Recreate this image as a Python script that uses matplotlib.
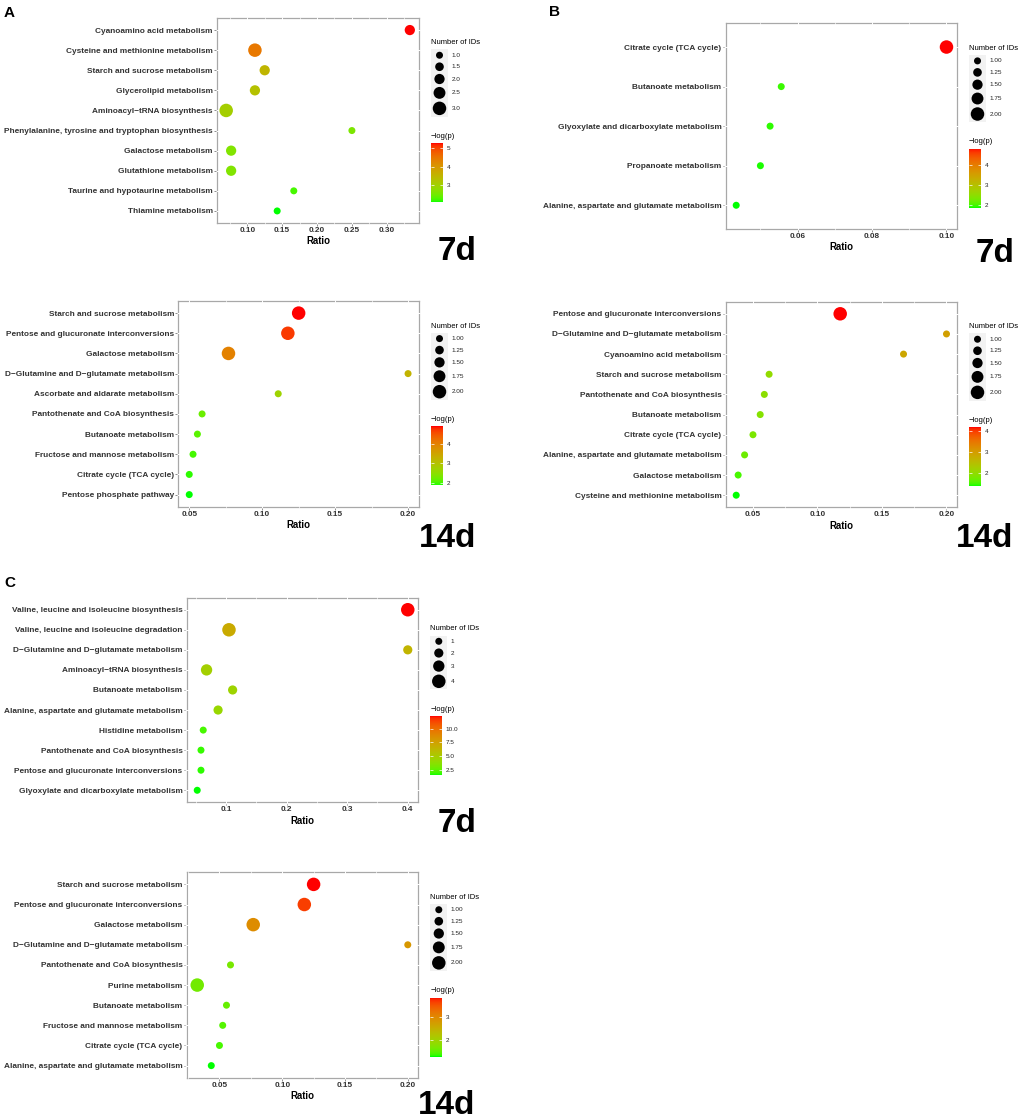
import numpy as np
import matplotlib
matplotlib.use("Agg")
import matplotlib.pyplot as plt
from matplotlib.colors import ListedColormap, Normalize
from matplotlib.cm import ScalarMappable
from matplotlib.ticker import FormatStrFormatter
from matplotlib.transforms import blended_transform_factory

plt.rcParams['font.family'] = ['Liberation Sans', 'DejaVu Sans']

# ---------------- DATA ----------------
# Panel A, 7d
A7_PATH = ["Cyanoamino acid metabolism", "Cysteine and methionine metabolism",
           "Starch and sucrose metabolism", "Glycerolipid metabolism",
           "Aminoacyl\u2212tRNA biosynthesis",
           "Phenylalanine, tyrosine and tryptophan biosynthesis",
           "Galactose metabolism", "Glutathione metabolism",
           "Taurine and hypotaurine metabolism", "Thiamine metabolism"]
A7_RATIO = [0.333, 0.111, 0.125, 0.111, 0.0698, 0.25, 0.0769, 0.0769, 0.1667, 0.1429]
A7_IDS = [2, 3, 2, 2, 3, 1, 2, 2, 1, 1]
A7_LOGP = [5.25, 4.45, 3.5, 3.3, 3.05, 2.6, 2.65, 2.65, 2.25, 2.1]
A7_XTICKS = [0.10, 0.15, 0.20, 0.25, 0.30]
A7_SIZE_BREAKS = [1.0, 1.5, 2.0, 2.5, 3.0]
A7_CBAR_TICKS = [3, 4, 5]

# Panel B, 7d
B7_PATH = ["Citrate cycle (TCA cycle)", "Butanoate metabolism",
           "Glyoxylate and dicarboxylate metabolism", "Propanoate metabolism",
           "Alanine, aspartate and glutamate metabolism"]
B7_RATIO = [0.100, 0.0556, 0.0526, 0.050, 0.0435]
B7_IDS = [2, 1, 1, 1, 1]
B7_LOGP = [4.83, 1.97, 1.93, 1.9, 1.87]
B7_XTICKS = [0.06, 0.08, 0.10]
B7_SIZE_BREAKS = [1.00, 1.25, 1.50, 1.75, 2.00]
B7_CBAR_TICKS = [2, 3, 4]

# Panel A, 14d
A14_PATH = ["Starch and sucrose metabolism", "Pentose and glucuronate interconversions",
            "Galactose metabolism", "D\u2212Glutamine and D\u2212glutamate metabolism",
            "Ascorbate and aldarate metabolism", "Pantothenate and CoA biosynthesis",
            "Butanoate metabolism", "Fructose and mannose metabolism",
            "Citrate cycle (TCA cycle)", "Pentose phosphate pathway"]
A14_RATIO = [0.125, 0.1176, 0.0769, 0.200, 0.111, 0.0588, 0.0556, 0.0526, 0.050, 0.050]
A14_IDS = [2, 2, 2, 1, 1, 1, 1, 1, 1, 1]
A14_LOGP = [4.9, 4.7, 4.0, 3.25, 2.7, 2.2, 2.1, 2.0, 1.92, 1.86]
A14_XTICKS = [0.05, 0.10, 0.15, 0.20]
A14_SIZE_BREAKS = [1.00, 1.25, 1.50, 1.75, 2.00]
A14_CBAR_TICKS = [2, 3, 4]

# Panel B, 14d
B14_PATH = ["Pentose and glucuronate interconversions",
            "D\u2212Glutamine and D\u2212glutamate metabolism",
            "Cyanoamino acid metabolism", "Starch and sucrose metabolism",
            "Pantothenate and CoA biosynthesis", "Butanoate metabolism",
            "Citrate cycle (TCA cycle)", "Alanine, aspartate and glutamate metabolism",
            "Galactose metabolism", "Cysteine and methionine metabolism"]
B14_RATIO = [0.1176, 0.200, 0.1667, 0.0625, 0.0588, 0.0556, 0.050, 0.0435, 0.0385, 0.037]
B14_IDS = [2, 1, 1, 1, 1, 1, 1, 1, 1, 1]
B14_LOGP = [4.21, 2.95, 2.85, 2.0, 1.93, 1.87, 1.78, 1.68, 1.48, 1.34]
B14_XTICKS = [0.05, 0.10, 0.15, 0.20]
B14_SIZE_BREAKS = [1.00, 1.25, 1.50, 1.75, 2.00]
B14_CBAR_TICKS = [2, 3, 4]

# Panel C, 7d
C7_PATH = ["Valine, leucine and isoleucine biosynthesis",
           "Valine, leucine and isoleucine degradation",
           "D\u2212Glutamine and D\u2212glutamate metabolism",
           "Aminoacyl\u2212tRNA biosynthesis", "Butanoate metabolism",
           "Alanine, aspartate and glutamate metabolism", "Histidine metabolism",
           "Pantothenate and CoA biosynthesis",
           "Pentose and glucuronate interconversions",
           "Glyoxylate and dicarboxylate metabolism"]
C7_RATIO = [0.400, 0.105, 0.400, 0.068, 0.111, 0.087, 0.0625, 0.0588, 0.0588, 0.0526]
C7_IDS = [4, 4, 2, 3, 2, 2, 1, 1, 1, 1]
C7_LOGP = [12.3, 7.0, 6.4, 4.8, 4.5, 4.3, 2.1, 1.9, 1.8, 1.58]
C7_XTICKS = [0.1, 0.2, 0.3, 0.4]
C7_SIZE_BREAKS = [1, 2, 3, 4]
C7_CBAR_TICKS = [2.5, 5.0, 7.5, 10.0]

# Panel C, 14d
C14_PATH = ["Starch and sucrose metabolism", "Pentose and glucuronate interconversions",
            "Galactose metabolism", "D\u2212Glutamine and D\u2212glutamate metabolism",
            "Pantothenate and CoA biosynthesis", "Purine metabolism",
            "Butanoate metabolism", "Fructose and mannose metabolism",
            "Citrate cycle (TCA cycle)", "Alanine, aspartate and glutamate metabolism"]
C14_RATIO = [0.125, 0.1176, 0.0769, 0.200, 0.0588, 0.0323, 0.0556, 0.0526, 0.050, 0.0435]
C14_IDS = [2, 2, 2, 1, 1, 2, 1, 1, 1, 1]
C14_LOGP = [3.84, 3.65, 2.95, 2.82, 1.66, 1.61, 1.54, 1.46, 1.41, 1.28]
C14_XTICKS = [0.05, 0.10, 0.15, 0.20]
C14_SIZE_BREAKS = [1.00, 1.25, 1.50, 1.75, 2.00]
C14_CBAR_TICKS = [2, 3]

# ---------------- colour map (green -> red, Lab interpolation) ----------------
_M = np.array([[0.4124564, 0.3575761, 0.1804375],
               [0.2126729, 0.7151522, 0.0721750],
               [0.0193339, 0.1191920, 0.9503041]])
_WHITE = np.array([0.95047, 1.0, 1.08883])


def srgb2lab(rgb):
    rgb = np.asarray(rgb, float)
    lin = np.where(rgb <= 0.04045, rgb / 12.92, ((rgb + 0.055) / 1.055) ** 2.4)
    xyz = lin @ _M.T / _WHITE
    f = np.where(xyz > 0.008856, np.cbrt(xyz), 7.787 * xyz + 16 / 116)
    return np.stack([116 * f[..., 1] - 16, 500 * (f[..., 0] - f[..., 1]),
                     200 * (f[..., 1] - f[..., 2])], -1)


def lab2srgb(lab):
    fy_ = (lab[..., 0] + 16) / 116
    fx_ = fy_ + lab[..., 1] / 500
    fz_ = fy_ - lab[..., 2] / 200
    f = np.stack([fx_, fy_, fz_], -1)
    xyz = np.where(f ** 3 > 0.008856, f ** 3, (f - 16 / 116) / 7.787) * _WHITE
    lin = np.clip(xyz @ np.linalg.inv(_M).T, 0, None)
    rgb = np.where(lin <= 0.0031308, 12.92 * lin, 1.055 * lin ** (1 / 2.4) - 0.055)
    return np.clip(rgb, 0, 1)


t = np.linspace(0, 1, 256)[:, None]
lab_lo = srgb2lab([0.0, 1.0, 0.0])
lab_hi = srgb2lab([1.0, 0.0, 0.0])
CMAP = ListedColormap(lab2srgb(lab_lo * (1 - t) + lab_hi * t))

# ---------------- layout helpers ----------------
W, H = 1020, 1120
fig = plt.figure(figsize=(W / 100, H / 100), dpi=100)


def rect(l, t_, w, h):
    return [l / W, 1 - (t_ + h) / H, w / W, h / H]


def ftext(x, y, s, **kw):
    fig.text(x / W, 1 - y / H, s, **kw)


D_MIN, D_MAX = 7.0, 13.5


def diam(v, lo, hi):
    return D_MIN + (D_MAX - D_MIN) * (np.asarray(v, float) - lo) / (hi - lo)


TXT = '#333333'


def panel(path, ratio, ids, logp, xticks, size_breaks, cbar_ticks,
          box, day, daypos, xfmt, sfmt, cfmt):
    l, r, tp, bt = box
    ax = fig.add_axes(rect(l, tp, r - l, bt - tp))
    n = len(path)
    ypos = np.arange(n)[::-1]
    lo, hi = min(size_breaks), max(size_breaks)
    d = diam(ids, lo, hi) * 0.72
    vmin, vmax = min(logp), max(logp)
    ax.scatter(ratio, ypos, s=d ** 2, c=logp, cmap=CMAP, vmin=vmin, vmax=vmax,
               edgecolors='none', zorder=4, clip_on=False)
    ax.set_ylim(-0.6, n - 1 + 0.6)
    ax.margins(x=0.05)
    ax.set_yticks(ypos)
    ax.set_yticklabels(path, fontsize=5.95, fontweight='bold', color=TXT)
    ax.set_xticks(xticks)
    ax.xaxis.set_major_formatter(FormatStrFormatter(xfmt))
    for lab in ax.get_xticklabels():
        lab.set_fontweight('bold')
    ax.tick_params(axis='both', length=2, width=0.6, color='#7a7a7a', pad=1,
                   labelsize=5.95, labelcolor=TXT)
    for s in ax.spines.values():
        s.set_color('#a8a8a8')
        s.set_linewidth(0.9)
    ax.set_facecolor('white')
    # white grid lines crossing the border (ggplot style)
    xl = ax.get_xlim()
    step = xticks[1] - xticks[0]
    majors = [v for v in np.arange(xticks[0] - 3 * step, xticks[-1] + 3 * step, step)
              if xl[0] < v < xl[1]]
    minors = [v + step / 2 for v in majors] + [majors[0] - step / 2]
    minors = [v for v in minors if xl[0] < v < xl[1]]
    tr = blended_transform_factory(ax.transData, ax.transAxes)
    ax.vlines(majors, -0.007, 1.007, transform=tr, colors='white', lw=0.7,
              zorder=3, clip_on=False)
    ax.vlines(minors, -0.007, 1.007, transform=tr, colors='white', lw=0.45,
              zorder=3, clip_on=False)
    tr2 = blended_transform_factory(ax.transAxes, ax.transData)
    ax.hlines(ypos, -0.006, 1.006, transform=tr2, colors='white', lw=0.7,
              zorder=3, clip_on=False)
    ax.set_xlim(xl)
    ax.set_xlabel('Ratio', fontsize=6.9, fontweight='bold', color='black', labelpad=1.5)

    # ---- legends ----
    keyh = [max(11.5, dd + 2.8) for dd in diam(size_breaks, lo, hi)]
    total = 4 + 6.6 + sum(keyh) + 19.6 + 7 + 59
    top = (tp + bt) / 2 - total / 2
    x0 = r + 12
    title_y = top + 4
    ftext(x0, title_y, 'Number of IDs', fontsize=5.5, va='center', ha='left')
    box_top = title_y + 6.6
    lax = fig.add_axes(rect(x0, box_top, 17, sum(keyh)))
    lax.set_facecolor('#f2f2f2')
    for s in lax.spines.values():
        s.set_visible(False)
    lax.set_xticks([])
    lax.set_yticks([])
    lax.set_xlim(0, 17)
    lax.set_ylim(sum(keyh), 0)
    cy = np.cumsum(keyh) - np.array(keyh) / 2
    kd = diam(size_breaks, lo, hi) * 0.72
    lax.scatter([8.5] * len(size_breaks), cy, s=kd ** 2, c='black',
                edgecolors='none', clip_on=False)
    for v, yy in zip(size_breaks, cy):
        ftext(x0 + 20.5, box_top + yy, sfmt % v, fontsize=4.6, va='center',
              ha='left', color='#222222')
    box_bot = box_top + sum(keyh)
    ct_y = box_bot + 19.6
    ftext(x0, ct_y, '\u2212log(p)', fontsize=5.5, va='center', ha='left')
    cax = fig.add_axes(rect(x0, ct_y + 7, 12, 59))
    sm = ScalarMappable(norm=Normalize(vmin, vmax), cmap=CMAP)
    cb = fig.colorbar(sm, cax=cax, ticks=cbar_ticks)
    cb.outline.set_visible(False)
    cax.yaxis.set_major_formatter(FormatStrFormatter(cfmt))
    cax.tick_params(axis='y', direction='in', length=2.2, width=0.5, color='white',
                    left=True, right=True, labelsize=4.6, labelcolor='#222222', pad=2.5)

    # day label
    ftext(daypos[0], daypos[1], day, fontsize=24, fontweight='bold',
          ha='right', va='baseline')


panel(A7_PATH, A7_RATIO, A7_IDS, A7_LOGP, A7_XTICKS, A7_SIZE_BREAKS, A7_CBAR_TICKS,
      (217, 419, 18, 223), '7d', (477, 260), '%.2f', '%.1f', '%d')
panel(B7_PATH, B7_RATIO, B7_IDS, B7_LOGP, B7_XTICKS, B7_SIZE_BREAKS, B7_CBAR_TICKS,
      (725.7, 957, 23.3, 229), '7d', (1015, 261.7), '%.2f', '%.2f', '%d')
panel(A14_PATH, A14_RATIO, A14_IDS, A14_LOGP, A14_XTICKS, A14_SIZE_BREAKS, A14_CBAR_TICKS,
      (178.3, 419, 301, 506.7), '14d', (476, 546.7), '%.2f', '%.2f', '%d')
panel(B14_PATH, B14_RATIO, B14_IDS, B14_LOGP, B14_XTICKS, B14_SIZE_BREAKS, B14_CBAR_TICKS,
      (725.7, 957, 301.7, 507.3), '14d', (1013, 546.7), '%.2f', '%.2f', '%d')
panel(C7_PATH, C7_RATIO, C7_IDS, C7_LOGP, C7_XTICKS, C7_SIZE_BREAKS, C7_CBAR_TICKS,
      (186.7, 418.3, 597.7, 802.3), '7d', (476.7, 831.7), '%.1f', '%d', '%.1f')
panel(C14_PATH, C14_RATIO, C14_IDS, C14_LOGP, C14_XTICKS, C14_SIZE_BREAKS, C14_CBAR_TICKS,
      (186.7, 418.3, 872.3, 1077.7), '14d', (475, 1114.5), '%.2f', '%.2f', '%d')

# panel letters
ftext(4, 17, 'A', fontsize=11, fontweight='bold', ha='left', va='baseline')
ftext(549, 16, 'B', fontsize=11, fontweight='bold', ha='left', va='baseline')
ftext(4, 587, 'C', fontsize=11, fontweight='bold', ha='left', va='baseline')

fig.savefig('out.png', dpi=100, facecolor='white')
